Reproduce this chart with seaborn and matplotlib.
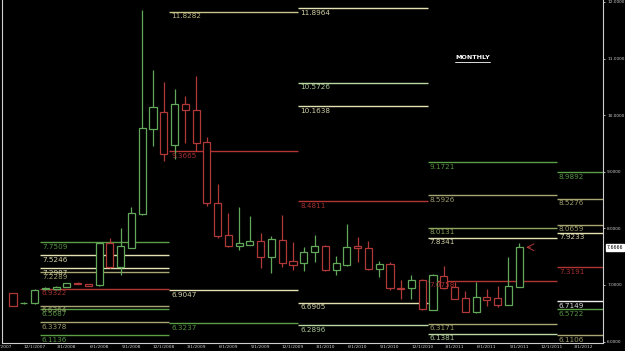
import matplotlib
matplotlib.use("Agg")
import matplotlib.pyplot as plt
import seaborn as sns
import pandas as pd

# monthly candles, Oct 2007 .. Sep 2011
months = pd.date_range("2007-10-01", "2011-09-01", freq="MS")
opens = [6.85, 6.68, 6.68, 6.93, 6.93, 6.97, 7.04, 7.01, 7.00, 7.75, 7.31, 7.66,
         8.25, 9.76, 10.05, 9.47, 10.19, 10.09, 9.52, 8.45, 7.88, 7.68, 7.71, 7.77,
         7.49, 7.80, 7.42, 7.38, 7.58, 7.69, 7.27, 7.35, 7.68, 7.65, 7.28, 7.37,
         6.95, 6.94, 7.09, 6.56, 7.16, 6.97, 6.77, 6.52, 6.79, 6.77, 6.65, 6.97]
highs = [6.86, 6.70, 6.93, 6.96, 6.98, 7.04, 7.05, 7.02, 7.76, 7.83, 8.00, 8.38,
         11.86, 10.79, 10.59, 10.46, 10.34, 10.69, 9.62, 8.78, 8.28, 8.37, 8.22, 7.91,
         7.87, 8.24, 7.76, 7.67, 7.88, 7.71, 7.51, 8.08, 7.84, 7.77, 7.43, 7.41,
         7.08, 7.18, 7.10, 7.19, 7.34, 7.06, 6.90, 7.06, 6.93, 6.99, 7.50, 7.74]
lows = [6.62, 6.67, 6.67, 6.92, 6.92, 6.96, 7.01, 6.98, 6.99, 7.30, 7.18, 7.65,
        8.24, 9.46, 9.19, 9.22, 9.51, 9.36, 8.40, 7.83, 7.67, 7.61, 7.70, 7.30,
        7.22, 7.32, 7.27, 7.24, 7.41, 7.25, 7.18, 7.34, 7.40, 7.27, 7.14, 6.91,
        6.75, 6.75, 6.56, 6.55, 6.93, 6.75, 6.52, 6.51, 6.63, 6.61, 6.64, 6.96]
closes = [6.63, 6.69, 6.92, 6.95, 6.97, 7.03, 7.02, 6.99, 7.75, 7.31, 7.68, 8.27,
          9.77, 10.15, 9.32, 10.19, 10.09, 9.51, 8.44, 7.87, 7.68, 7.74, 7.77, 7.49,
          7.81, 7.39, 7.36, 7.59, 7.68, 7.26, 7.38, 7.67, 7.65, 7.28, 7.37, 6.94,
          6.93, 7.08, 6.57, 7.18, 6.95, 6.76, 6.53, 6.79, 6.74, 6.65, 6.99, 7.6666]

# yearly pivot levels (value, level kind)
pivot_years = [2008, 2009, 2010, 2011, 2012]
levels_2008 = [7.7509, 7.5246, 7.2987, 7.2289, 6.9322, 6.6364, 6.5687, 6.3378, 6.1136]
kinds_2008 = ["g", "c", "c", "k", "r", "k", "g", "k", "g"]
levels_2009 = [11.8282, 9.3665, 6.9047, 6.3237]
kinds_2009 = ["y", "r", "c", "g"]
levels_2010 = [11.8964, 10.5726, 10.1638, 8.4811, 6.6905, 6.2896]
kinds_2010 = ["c", "lg", "c", "r", "c", "lg"]
levels_2011 = [9.1721, 8.5926, 8.0131, 7.8341, 7.0758, 6.3171, 6.1381]
kinds_2011 = ["g", "k", "gk", "c", "r", "k", "lg"]
levels_2012 = [8.9892, 8.5276, 8.0659, 7.9233, 7.3191, 6.7149, 6.5722, 6.1106]
kinds_2012 = ["g", "k", "k", "c", "r", "w", "g", "k"]

y_ticks = [6.0, 7.0, 8.0, 9.0, 10.0, 11.0, 12.0]

UP = "#63a85a"
DOWN = "#b03838"
kind_colors = {"g": "#5a9e46", "c": "#e4e2b4", "k": "#a9a872", "r": "#b23434",
               "lg": "#b9d7a2", "y": "#c9c58a", "gk": "#8fa65e", "w": "#f0f0f0"}

sns.set_theme(style="dark", rc={
    "axes.facecolor": "black", "figure.facecolor": "black",
    "axes.edgecolor": "#cfcfcf", "axes.linewidth": 0.8,
    "xtick.color": "#cfcfcf", "ytick.color": "#cfcfcf",
    "axes.grid": False,
})
plt.rcParams["font.family"] = ["DejaVu Sans"]

fig = plt.figure(figsize=(6.25, 3.51), dpi=100)
ax = fig.add_axes([2 / 625, 8 / 351, 601 / 625, 343 / 351])

x = list(range(len(months)))
cols = [UP if c >= o else DOWN for o, c in zip(opens, closes)]
ax.vlines(x, lows, highs, colors=cols, lw=0.9, zorder=2)
bottoms = [min(o, c) for o, c in zip(opens, closes)]
heights = [max(abs(c - o), 0.004) for o, c in zip(opens, closes)]
ax.bar(x, heights, bottom=bottoms, width=0.66, facecolor="black",
       edgecolor=cols, linewidth=0.9, zorder=3)

x_right = 54.78
all_levels = [levels_2008, levels_2009, levels_2010, levels_2011, levels_2012]
all_kinds = [kinds_2008, kinds_2009, kinds_2010, kinds_2011, kinds_2012]
start0 = months[0]
for k, year in enumerate(pivot_years):
    start = (year - start0.year) * 12 - (start0.month - 1) - 0.5
    end = start + 12 if k < len(pivot_years) - 1 else x_right
    for lv, kd in zip(all_levels[k], all_kinds[k]):
        col = kind_colors[kd]
        ax.hlines(lv, start, end, colors=col, lw=1.0, zorder=1)
        ax.annotate(f"{lv:.4f}", (start, lv), xytext=(1.5, -1.2),
                    textcoords="offset points", ha="left", va="top",
                    color=col, fontsize=5.2, alpha=0.92, zorder=4)

# current price marker
last = closes[-1]
ax.annotate("", xy=(len(x) - 1 + 0.38, last), xytext=(len(x) - 1 + 1.3, last),
            arrowprops=dict(arrowstyle="->", color=DOWN, lw=0.7))
ax.annotate(f"{last:.4f}", xy=(1, last), xycoords=("axes fraction", "data"),
            xytext=(2.5, 0), textcoords="offset points", ha="left", va="center",
            fontsize=3.3, color="black", annotation_clip=False,
            bbox=dict(boxstyle="square,pad=0.2", fc="white", ec="white"))

ax.set_xlim(-1.02, x_right)
ax.set_ylim(5.975, 12.035)

tick_dates = pd.date_range("2007-09-01", "2012-03-01", freq="3MS")
tick_pos = [(d.year - start0.year) * 12 + d.month - start0.month for d in tick_dates]
ax.set_xticks(tick_pos)
ax.set_xticklabels([f"{d.month}/1/{d.year}" for d in tick_dates], fontsize=3.2)
ax.yaxis.tick_right()
ax.set_yticks(y_ticks)
ax.set_yticklabels([f"{v:.4f}" for v in y_ticks], fontsize=3.1)
ax.tick_params(axis="x", length=1.2, width=0.6, pad=0.6, direction="out")
ax.tick_params(axis="y", length=1.5, width=0.6, pad=1.5, direction="out")
ax.spines["top"].set_visible(False)
for s in ["left", "bottom", "right"]:
    ax.spines[s].set_color("#cfcfcf")

title = ax.text(0.754, 0.831, "MONTHLY", transform=ax.transAxes, color="white",
                fontsize=4.6, fontweight="bold", ha="left", va="center")
fig.canvas.draw()
bb = title.get_window_extent().transformed(ax.transAxes.inverted())
ax.plot([bb.x0, bb.x1], [bb.y0 - 0.004, bb.y0 - 0.004], transform=ax.transAxes,
        color="white", lw=0.6)

fig.savefig("out.png", dpi=100, facecolor="black")
